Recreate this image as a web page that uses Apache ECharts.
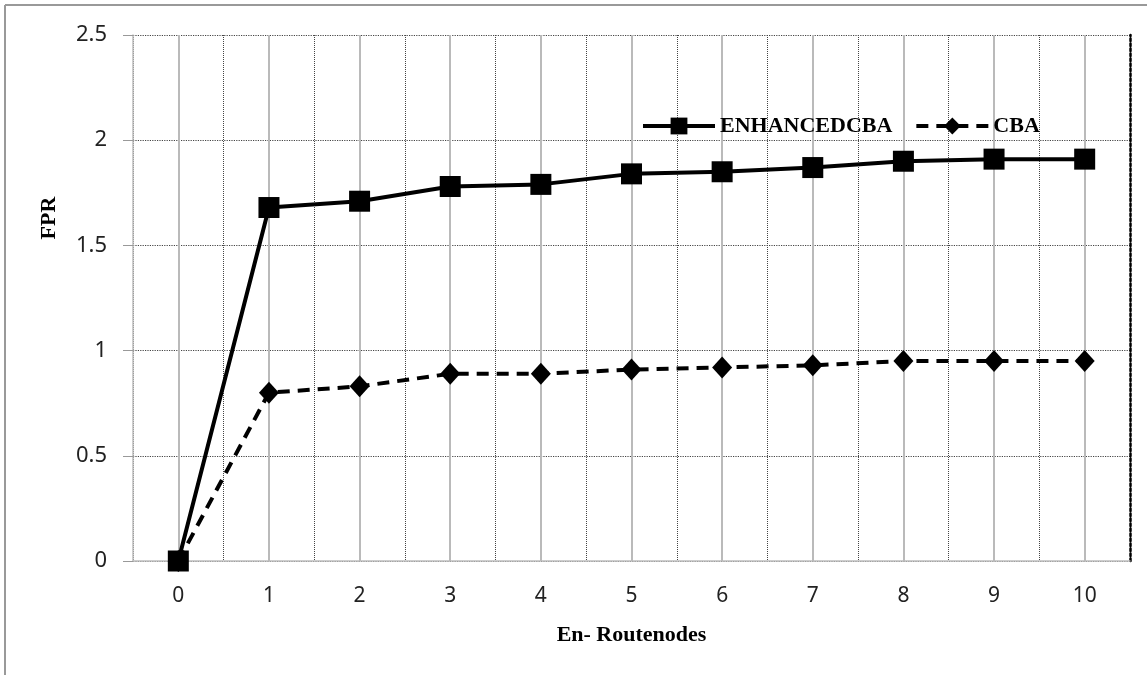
<!DOCTYPE html>
<html>
<head>
<meta charset="utf-8">
<script src="https://cdn.jsdelivr.net/npm/echarts@6/dist/echarts.min.js"></script>
<style>
html,body{margin:0;padding:0;background:#fff;}
#chart{width:1147px;height:675px;}
</style>
</head>
<body>
<div id="chart"></div>
<script>
const categories = ['0','1','2','3','4','5','6','7','8','9','10'];
const enhancedCBA = [0, 1.68, 1.71, 1.78, 1.79, 1.84, 1.85, 1.87, 1.90, 1.91, 1.91];
const cba = [0, 0.80, 0.83, 0.89, 0.89, 0.91, 0.92, 0.93, 0.95, 0.95, 0.95];
const seriesNames = ['ENHANCEDCBA', 'CBA'];
const xAxisName = 'En- Routenodes';
const yAxisName = 'FPR';
const yMin = 0, yMax = 2.5, yStep = 0.5;

const serif = "'Liberation Serif', 'DejaVu Serif', serif";
const sans = "'Noto Sans', 'Open Sans', sans-serif";

const chart = echarts.init(document.getElementById('chart'), null, {renderer: 'canvas'});
chart.setOption({
  backgroundColor: '#fff',
  animation: false,
  grid: {left: 133, right: 17, top: 35, bottom: 114, containLabel: false},
  legend: {
    left: 636, top: 110,
    itemWidth: 72, itemHeight: 21, itemGap: 22,
    lineStyle: {width: 4},
    textStyle: {fontFamily: serif, fontWeight: 'bold', fontSize: 22, color: '#000'},
    data: seriesNames
  },
  xAxis: [{
    type: 'category',
    data: categories,
    boundaryGap: true,
    name: xAxisName,
    nameLocation: 'middle',
    nameGap: 63,
    nameTextStyle: {fontFamily: serif, fontWeight: 'bold', fontSize: 22, color: '#000'},
    axisLine: {show: true, lineStyle: {color: '#bdbdbd', width: 1.5}},
    axisTick: {show: false},
    axisLabel: {fontFamily: sans, fontSize: 21, color: '#222', margin: 25},
    splitLine: {show: true, interval: 0, lineStyle: {color: '#444', type: 'dotted', width: 1}}
  }],
  yAxis: [{
    type: 'value',
    min: yMin, max: yMax, interval: yStep,
    axisLine: {show: true, lineStyle: {color: '#bdbdbd', width: 1.5}},
    axisTick: {show: true, length: 10, lineStyle: {color: '#999'}},
    axisLabel: {fontFamily: sans, fontSize: 22, color: '#222', margin: 26},
    splitLine: {show: true, lineStyle: {color: '#444', type: 'dotted', width: 1.2}}
  }, {
    type: 'value',
    position: 'right',
    min: yMin, max: yMax, interval: yStep,
    axisLine: {show: true, lineStyle: {color: '#000', type: 'dotted', width: 2.5}},
    axisTick: {show: false},
    axisLabel: {show: false},
    splitLine: {show: false}
  }],
  graphic: [{
    type: 'text',
    x: 49, y: 218,
    rotation: Math.PI / 2,
    style: {text: yAxisName, fontFamily: serif, fontWeight: 'bold', fontSize: 22, fill: '#000', align: 'center', verticalAlign: 'middle'}
  }, {
    type: 'line',
    shape: {x1: 5, y1: 5, x2: 1147, y2: 5},
    style: {stroke: '#999', lineWidth: 2}
  }, {
    type: 'line',
    shape: {x1: 5, y1: 5, x2: 5, y2: 675},
    style: {stroke: '#999', lineWidth: 2}
  }],
  series: [{
    name: 'grid-lines',
    type: 'line',
    data: [],
    silent: true,
    z: 1,
    markLine: {
      silent: true,
      animation: false,
      z: 1,
      symbol: ['none', 'none'],
      label: {show: false},
      emphasis: {disabled: true},
      lineStyle: {color: '#bababa', width: 2, type: 'solid', opacity: 1},
      data: categories.map((c, i) => [{xAxis: i, yAxis: yMin}, {xAxis: i, yAxis: yMax}])
    }
  }, {
    name: seriesNames[0],
    type: 'line',
    data: enhancedCBA,
    symbol: 'rect',
    symbolSize: 21,
    itemStyle: {color: '#000'},
    lineStyle: {color: '#000', width: 4, type: 'solid'},
    z: 3
  }, {
    name: seriesNames[1],
    type: 'line',
    data: cba,
    symbol: 'diamond',
    symbolSize: [20, 22],
    itemStyle: {color: '#000'},
    lineStyle: {color: '#000', width: 4, type: [12, 8]},
    z: 2
  }]
});
</script>
</body>
</html>
